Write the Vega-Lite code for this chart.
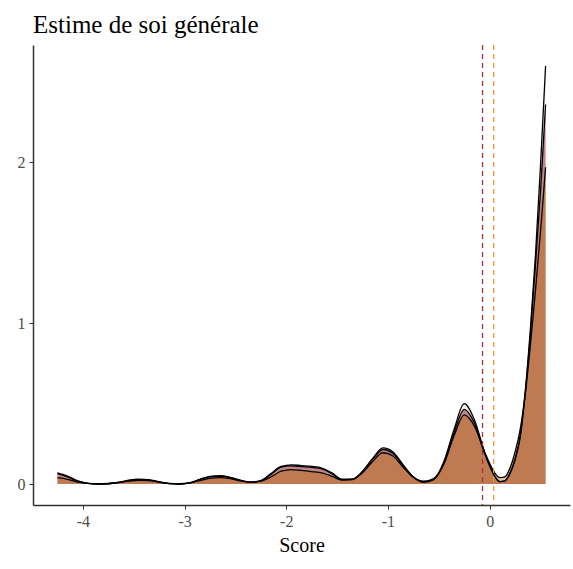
{
  "$schema": "https://vega.github.io/schema/vega-lite/v6.json",
  "width": 537,
  "height": 460,
  "autosize": "none",
  "padding": {"left": 33, "top": 45, "right": 3, "bottom": 64},
  "background": "white",
  "config": {"view": {"stroke": null}, "font": "Liberation Serif"},
  "title": {"text": "Estime de soi générale", "anchor": "start", "frame": "group", "fontSize": 25, "fontWeight": "normal", "font": "Liberation Serif", "color": "black", "offset": 6},
  "datasets": {
    "dens": [
      {"x": -4.25, "a": 0.07, "b": 0.065, "c": 0.04},
      {"x": -4.15, "a": 0.05, "b": 0.045, "c": 0.03},
      {"x": -4.05, "a": 0.02, "b": 0.018, "c": 0.012},
      {"x": -3.95, "a": 0.004, "b": 0.004, "c": 0.004},
      {"x": -3.85, "a": 0.0, "b": 0.0, "c": 0.002},
      {"x": -3.75, "a": 0.002, "b": 0.002, "c": 0.004},
      {"x": -3.65, "a": 0.01, "b": 0.01, "c": 0.01},
      {"x": -3.55, "a": 0.024, "b": 0.022, "c": 0.018},
      {"x": -3.45, "a": 0.03, "b": 0.028, "c": 0.024},
      {"x": -3.35, "a": 0.027, "b": 0.025, "c": 0.022},
      {"x": -3.25, "a": 0.014, "b": 0.013, "c": 0.012},
      {"x": -3.15, "a": 0.003, "b": 0.003, "c": 0.004},
      {"x": -3.05, "a": 0.0, "b": 0.0, "c": 0.002},
      {"x": -2.95, "a": 0.008, "b": 0.007, "c": 0.007},
      {"x": -2.85, "a": 0.03, "b": 0.028, "c": 0.022},
      {"x": -2.75, "a": 0.048, "b": 0.045, "c": 0.036},
      {"x": -2.65, "a": 0.052, "b": 0.05, "c": 0.04},
      {"x": -2.55, "a": 0.042, "b": 0.04, "c": 0.034},
      {"x": -2.45, "a": 0.024, "b": 0.022, "c": 0.02},
      {"x": -2.35, "a": 0.012, "b": 0.011, "c": 0.012},
      {"x": -2.25, "a": 0.022, "b": 0.02, "c": 0.018},
      {"x": -2.15, "a": 0.065, "b": 0.06, "c": 0.045},
      {"x": -2.05, "a": 0.11, "b": 0.105, "c": 0.08},
      {"x": -1.95, "a": 0.12, "b": 0.113, "c": 0.09},
      {"x": -1.85, "a": 0.115, "b": 0.108, "c": 0.085},
      {"x": -1.75, "a": 0.11, "b": 0.104, "c": 0.078},
      {"x": -1.65, "a": 0.1, "b": 0.095, "c": 0.07},
      {"x": -1.55, "a": 0.07, "b": 0.065, "c": 0.048},
      {"x": -1.45, "a": 0.03, "b": 0.028, "c": 0.025},
      {"x": -1.35, "a": 0.03, "b": 0.028, "c": 0.03},
      {"x": -1.25, "a": 0.08, "b": 0.075, "c": 0.07},
      {"x": -1.15, "a": 0.16, "b": 0.155, "c": 0.14},
      {"x": -1.05, "a": 0.225, "b": 0.215, "c": 0.195},
      {"x": -0.95, "a": 0.2, "b": 0.19, "c": 0.175},
      {"x": -0.85, "a": 0.12, "b": 0.115, "c": 0.105},
      {"x": -0.75, "a": 0.045, "b": 0.042, "c": 0.042},
      {"x": -0.65, "a": 0.012, "b": 0.012, "c": 0.018},
      {"x": -0.55, "a": 0.03, "b": 0.028, "c": 0.035},
      {"x": -0.45, "a": 0.14, "b": 0.13, "c": 0.125},
      {"x": -0.35, "a": 0.34, "b": 0.32, "c": 0.3},
      {"x": -0.25, "a": 0.5, "b": 0.465, "c": 0.43},
      {"x": -0.15, "a": 0.4, "b": 0.38, "c": 0.36},
      {"x": -0.05, "a": 0.2, "b": 0.19, "c": 0.2},
      {"x": 0.05, "a": 0.05, "b": 0.05, "c": 0.07},
      {"x": 0.1, "a": 0.015, "b": 0.015, "c": 0.04},
      {"x": 0.15, "a": 0.02, "b": 0.02, "c": 0.045},
      {"x": 0.2, "a": 0.07, "b": 0.065, "c": 0.1},
      {"x": 0.25, "a": 0.16, "b": 0.15, "c": 0.2},
      {"x": 0.3, "a": 0.3, "b": 0.29, "c": 0.34},
      {"x": 0.35, "a": 0.58, "b": 0.56, "c": 0.56},
      {"x": 0.4, "a": 0.96, "b": 0.93, "c": 0.86},
      {"x": 0.45, "a": 1.42, "b": 1.36, "c": 1.2},
      {"x": 0.5, "a": 1.98, "b": 1.82, "c": 1.57},
      {"x": 0.55, "a": 2.6, "b": 2.36, "c": 1.97}
    ],
    "means": [
      {"x": -0.07, "g": "b"},
      {"x": 0.04, "g": "c"}
    ]
  },
  "encoding": {
    "x": {"field": "x", "type": "quantitative", "scale": {"domain": [-4.49, 0.79], "nice": false, "zero": false},
      "axis": {"title": "Score", "values": [-4, -3, -2, -1, 0], "labelExpr": "toString(datum.value)", "grid": false, "domain": true, "domainColor": "#333333", "domainWidth": 1.5, "tickColor": "#333333", "tickSize": 4, "tickWidth": 1, "labelColor": "#4D4D4D", "labelFontSize": 16, "labelFont": "Liberation Serif", "labelPadding": 4, "titleFont": "Liberation Serif", "titleFontSize": 20, "titleFontWeight": "normal", "titleColor": "black", "titlePadding": 6}}
  },
  "layer": [
    {
      "data": {"name": "dens"},
      "transform": [{"fold": ["a", "b", "c"], "as": ["s", "y"]}],
      "mark": {"type": "area", "interpolate": "monotone", "fillOpacity": 1},
      "encoding": {
        "y": {"field": "y", "type": "quantitative", "stack": null, "scale": {"domain": [-0.13, 2.73], "nice": false, "zero": false},
          "axis": {"title": null, "values": [0, 1, 2], "labelExpr": "toString(datum.value)", "grid": false, "domain": true, "domainColor": "#333333", "domainWidth": 1.5, "tickColor": "#333333", "tickSize": 4, "tickWidth": 1, "labelColor": "#4D4D4D", "labelFontSize": 16, "labelFont": "Liberation Serif", "labelPadding": 4}},
        "fill": {"field": "s", "type": "nominal", "scale": {"domain": ["a", "b", "c"], "range": ["rgba(190,190,190,0.25)", "rgba(145,25,35,0.5)", "rgba(190,107,0,0.4)"]}, "legend": null}
      }
    },
    {
      "data": {"name": "dens"},
      "transform": [{"fold": ["a", "b", "c"], "as": ["s", "y"]}],
      "mark": {"type": "line", "interpolate": "monotone", "color": "black", "strokeWidth": 1.3},
      "encoding": {
        "y": {"field": "y", "type": "quantitative"},
        "detail": {"field": "s", "type": "nominal"}
      }
    },
    {
      "data": {"name": "means"},
      "mark": {"type": "rule", "strokeDash": [5, 4], "strokeWidth": 1.3},
      "encoding": {
        "stroke": {"field": "g", "type": "nominal", "scale": {"domain": ["b", "c"], "range": ["#A83232", "#E8982A"]}, "legend": null}
      }
    }
  ]
}
